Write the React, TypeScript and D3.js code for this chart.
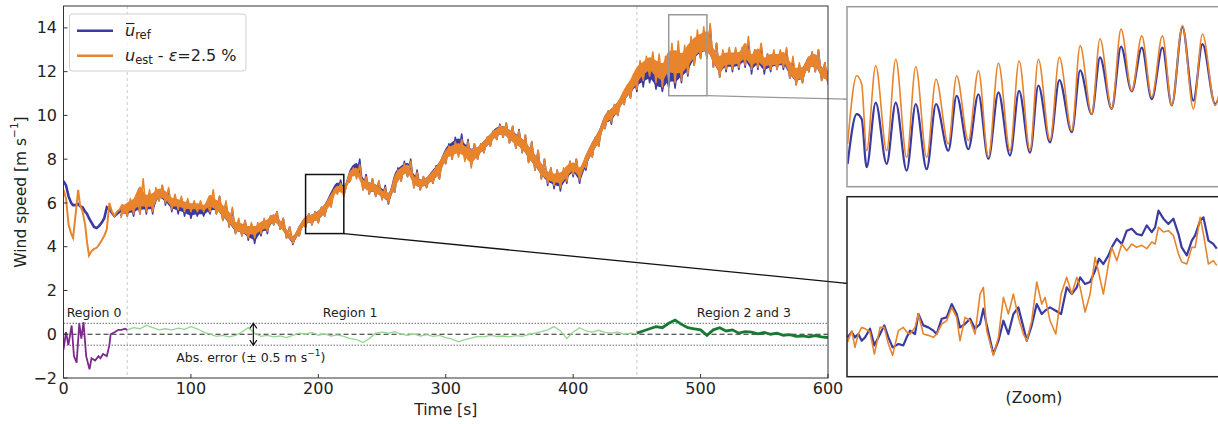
import React from 'react';
import * as d3 from 'd3';

const W = 1218;
const H = 424;
const FONT = '"DejaVu Sans", sans-serif';

const C_REF = '#3a3aa2';
const C_EST = '#e8842c';
const C_R0 = '#7b2a8c';
const C_R1 = '#97d592';
const C_R23 = '#177a32';

// ---- region 0 (start-up), wind speed lines [m/s]
const r0Time = [0, 2, 4, 6, 7.5, 9, 11.5, 13, 15, 17, 18.5, 20, 22, 24, 26, 28, 30, 32, 34, 36, 38, 40, 42, 44, 46, 48];
const r0Ref = [7.0, 6.8, 6.3, 6.0, 5.9, 5.9, 5.95, 5.85, 5.8, 5.6, 5.5, 5.3, 5.1, 4.9, 4.85, 4.95, 5.1, 5.3, 5.8, 5.7, 5.55, 5.4, 5.5, 5.6, 5.7, 5.8];
const r0Est = [6.6, 6.2, 5.0, 4.6, 4.4, 5.2, 6.6, 5.9, 5.6, 5.0, 4.2, 3.6, 3.8, 3.9, 3.95, 4.1, 4.3, 4.5, 4.8, 6.0, 5.6, 5.4, 5.6, 5.7, 5.9, 5.8];

// ---- t >= 45 s : envelope of the fast fluctuations, sampled every 5 s
const bandTime = d3.range(45, 601, 5);
const estLo = [5.3, 5.4, 5.5, 5.5, 5.6, 5.6, 6.1, 6.0, 5.7, 5.7, 5.6, 5.6, 5.6, 5.6, 5.6, 5.5, 5.2, 4.9, 4.6, 4.5,
  4.4, 4.4, 4.6, 4.7, 5.0, 4.8, 4.4, 4.15, 4.5, 4.9, 5.0, 5.1, 5.4, 5.8, 6.4, 6.3, 7.0, 7.1, 6.6, 6.4,
  6.3, 6.15, 6.0, 6.5, 7.0, 7.2, 6.7, 6.6, 6.7, 6.9, 7.1, 7.8, 8.0, 8.1, 7.9, 7.6, 8.0, 8.3, 8.6, 8.9,
  9.0, 8.75, 8.5, 8.3, 7.85, 7.5, 7.1, 6.9, 6.8, 6.7, 7.0, 7.3, 7.05, 7.6, 8.1, 8.6, 9.4, 9.7, 10.0, 10.5,
  10.8, 11.2, 11.6, 11.8, 11.5, 11.3, 11.6, 11.5, 11.6, 11.9, 12.3, 12.6, 12.6, 12.2, 11.75, 12.1, 12.1, 12.2, 12.3, 12.1,
  12.2, 12.1, 12.1, 12.1, 12.2, 11.7, 11.4, 11.5, 12.0, 12.0, 11.6, 11.45];
const estHi = [5.9, 6.2, 6.4, 7.1, 6.6, 6.7, 6.8, 6.7, 6.4, 6.3, 6.2, 6.1, 6.1, 6.0, 6.6, 6.3, 6.1, 5.8, 5.3, 5.2,
  5.1, 5.1, 5.3, 5.4, 5.6, 5.3, 4.9, 4.6, 5.1, 5.5, 5.6, 5.8, 6.1, 6.6, 6.9, 6.9, 7.6, 7.75, 7.2, 7.1,
  7.0, 6.7, 6.6, 7.5, 7.8, 7.9, 7.4, 7.2, 7.3, 7.65, 8.1, 8.6, 8.8, 8.9, 8.8, 8.7, 8.7, 9.0, 9.3, 9.55,
  9.65, 9.5, 9.3, 9.1, 8.8, 8.4, 8.0, 7.6, 7.5, 7.6, 7.9, 8.0, 7.8, 8.4, 9.0, 9.5, 10.2, 10.5, 10.8, 11.4,
  11.9, 12.5, 12.7, 12.9, 12.8, 12.7, 13.3, 13.4, 13.2, 13.6, 13.9, 14.05, 14.2, 13.3, 13.0, 13.1, 13.1, 13.1, 13.6, 13.0,
  13.3, 12.8, 13.0, 13.0, 13.1, 12.7, 12.4, 12.4, 12.9, 13.0, 12.4, 12.2];
const refLo = [5.4, 5.4, 5.4, 5.5, 5.5, 5.5, 6.1, 5.9, 5.6, 5.5, 5.4, 5.3, 5.4, 5.4, 5.5, 5.5, 5.2, 4.9, 4.6, 4.5,
  4.3, 4.15, 4.5, 4.6, 5.0, 4.8, 4.4, 4.1, 4.5, 4.9, 5.0, 5.1, 5.4, 5.9, 6.5, 6.4, 7.0, 7.2, 6.6, 6.4,
  6.3, 6.15, 5.95, 6.5, 7.0, 7.2, 6.7, 6.6, 6.7, 6.9, 7.1, 7.8, 8.0, 8.2, 8.0, 7.7, 8.0, 8.3, 8.6, 8.9,
  9.0, 8.75, 8.5, 8.3, 7.85, 7.5, 7.1, 6.8, 6.65, 6.55, 6.9, 7.2, 6.9, 7.5, 8.1, 8.6, 9.4, 9.6, 10.0, 10.5,
  10.8, 11.1, 11.3, 11.5, 11.2, 11.1, 11.3, 11.25, 11.5, 11.8, 12.3, 12.6, 12.6, 12.2, 11.75, 12.0, 12.0, 12.1, 12.2, 11.9,
  12.1, 11.9, 12.0, 12.1, 12.1, 11.7, 11.4, 11.5, 12.0, 12.0, 11.6, 11.45];
const refHi = [5.8, 6.0, 6.2, 6.4, 6.4, 6.5, 6.8, 6.6, 6.3, 6.2, 6.1, 5.9, 5.8, 5.8, 6.2, 6.3, 6.0, 5.7, 5.2, 5.2,
  5.0, 4.9, 5.2, 5.4, 5.6, 5.3, 4.9, 4.6, 5.1, 5.5, 5.6, 5.8, 6.1, 6.7, 7.05, 6.9, 7.7, 8.0, 7.3, 7.1,
  7.0, 6.8, 6.6, 7.6, 7.9, 8.0, 7.5, 7.2, 7.3, 7.7, 8.1, 8.7, 9.0, 9.15, 8.9, 8.7, 8.7, 9.0, 9.3, 9.6,
  9.65, 9.5, 9.35, 9.1, 8.8, 8.4, 8.0, 7.6, 7.5, 7.5, 7.9, 8.0, 7.7, 8.4, 9.0, 9.5, 10.2, 10.5, 10.8, 11.3,
  11.8, 12.3, 12.4, 12.3, 12.0, 11.9, 12.4, 12.6, 12.8, 13.0, 13.6, 13.8, 14.1, 13.3, 12.9, 13.0, 13.0, 13.0, 13.4, 13.0,
  13.2, 12.8, 12.9, 12.9, 13.0, 12.5, 12.3, 12.4, 12.9, 13.0, 12.4, 12.2];

// ---- estimation error [m/s]
const errR0Time = [0, 1, 2, 3.8, 6.4, 8.2, 10.3, 12.4, 14, 15.7, 17.8, 20.4, 22, 24.8, 27.5, 29, 31, 34, 36, 37, 40.4, 43, 45.6, 48.2, 50];
const errR0 = [-0.7, -0.3, 0.1, -0.5, 0.4, -1.0, -1.3, 0.5, -0.2, 0.55, -1.0, -1.6, -1.1, -1.2, -1.0, -1.1, -0.9, -1.0, -0.5, 0.0, 0.1, 0.2, 0.2, 0.25, 0.2];
const errR1Time = d3.range(50, 451, 5);
const errR1 = [0.2, 0.3, 0.25, 0.4, 0.3, 0.2, 0.25, 0.2, 0.28, 0.22, 0.35, 0.25, 0.1, 0.0, -0.1, -0.05, -0.12, -0.05, 0.1, 0.3,
  0.05, -0.1, -0.05, -0.12, -0.08, -0.15, -0.05, 0.05, 0.0, 0.08, -0.05, 0.02, -0.08, -0.03, -0.1, -0.2, -0.25, -0.38, -0.2, 0.05,
  0.1, 0.05, 0.12, 0.0, -0.05, 0.02, -0.08, -0.02, -0.1, -0.05, -0.15, -0.22, -0.35, -0.25, -0.18, -0.1, -0.12, -0.05, -0.1, -0.08,
  -0.12, -0.06, -0.1, -0.02, 0.05, 0.12, 0.2, 0.35, 0.15, -0.2, 0.1, 0.3, 0.15, 0.1, 0.18, 0.08, 0.05, 0.1, 0.0, 0.05, 0.02];
const errR23Time = d3.range(450, 601, 5);
const errR23 = [0.05, 0.15, 0.25, 0.35, 0.3, 0.5, 0.65, 0.45, 0.3, 0.25, 0.2, -0.05, 0.2, 0.3, 0.15, 0.2, 0.05, 0.12, 0.1, 0.02,
  0.08, 0.0, 0.05, -0.05, -0.02, -0.1, -0.08, -0.12, -0.06, -0.12, -0.15];

// ---- zoom windows
const zoomTopTime = [475.05, 475.78, 476.18, 476.58, 477.31, 478.19, 478.92, 479.80, 480.53, 481.41, 482.16, 483.15, 483.82, 484.76, 485.57, 486.37, 487.18, 488.11, 488.84, 489.72,
  490.39, 491.33, 492.08, 493.08, 493.75, 494.68, 495.35, 496.29, 497.04, 497.90, 498.71, 499.51, 500.37, 501.12, 501.98, 502.86, 503.59, 504.61, 505.0];
const zoomTopEst = [11.78, 13.18, 13.01, 11.64, 13.39, 11.64, 13.52, 11.50, 13.37, 11.50, 13.11, 11.78, 13.18, 11.85, 13.29, 11.50, 13.44, 11.64, 13.49, 11.64,
  13.52, 11.85, 13.56, 12.05, 13.80, 12.39, 13.94, 12.50, 14.14, 12.87, 14.00, 12.74, 14.00, 12.57, 14.21, 12.50, 14.04, 12.57, 12.9];
const zoomTopRef = [11.37, 12.39, 12.29, 11.30, 12.63, 11.37, 12.63, 11.23, 12.60, 11.26, 12.60, 11.64, 12.77, 11.67, 12.80, 11.47, 12.84, 11.54, 12.87, 11.60,
  12.98, 11.81, 13.09, 12.02, 13.29, 12.39, 13.56, 12.50, 13.78, 12.86, 13.76, 12.70, 13.76, 12.57, 14.18, 12.67, 13.83, 12.60, 12.8];

const zoomBotTime = [190.05, 190.38, 190.64, 190.91, 191.18, 191.45, 191.85, 192.20, 192.66, 193.00, 193.33, 193.67, 194.13, 194.53, 194.80, 195.07, 195.47, 195.74, 196.14, 196.54,
  196.95, 197.21, 197.62, 198.02, 198.42, 198.82, 199.09, 199.49, 199.90, 200.30, 200.70, 200.97, 201.24, 201.77, 202.18, 202.58, 202.98, 203.38, 203.78, 204.19,
  204.46, 204.86, 205.26, 205.66, 205.93, 206.33, 206.79, 207.22, 207.67, 208.08, 208.48, 208.75, 209.15, 209.55, 209.95, 210.27, 210.62, 211.03, 211.29, 211.70,
  212.10, 212.50, 212.90, 213.30, 213.71, 214.11, 214.51, 214.78, 215.05, 215.45, 215.85, 216.25, 216.66, 216.92, 217.33, 217.73, 218.00, 218.40, 218.67, 219.07,
  219.47, 219.74];
const zoomBotRef = [5.19, 5.27, 5.19, 5.24, 5.14, 5.19, 5.32, 5.07, 5.24, 5.37, 5.19, 5.04, 5.09, 5.07, 5.19, 5.29, 5.24, 5.54, 5.37, 5.34,
  5.29, 5.24, 5.47, 5.49, 5.69, 5.54, 5.34, 5.39, 5.47, 5.32, 5.39, 5.62, 5.37, 4.94, 5.14, 5.44, 5.24, 5.54, 5.64, 5.34,
  5.14, 5.37, 5.69, 5.54, 5.59, 5.64, 5.59, 5.54, 5.94, 5.84, 5.94, 6.09, 5.99, 6.02, 6.19, 6.37, 6.29, 6.42, 6.54, 6.67,
  6.59, 6.79, 6.82, 6.74, 6.72, 6.87, 6.77, 6.84, 7.09, 6.97, 6.89, 6.97, 6.74, 6.54, 6.42, 6.64, 6.72, 6.94, 6.99, 6.64,
  6.59, 6.52];
const zoomBotEst = [5.12, 5.29, 5.04, 5.24, 5.34, 5.32, 5.27, 4.94, 5.34, 5.34, 5.09, 4.92, 5.29, 5.34, 5.27, 5.24, 5.34, 5.54, 5.24, 5.22,
  5.19, 5.24, 5.39, 5.44, 5.64, 5.49, 5.14, 5.49, 5.44, 5.24, 5.84, 5.94, 5.29, 4.92, 5.19, 5.79, 5.54, 5.84, 5.49, 5.24,
  5.14, 5.44, 6.02, 5.69, 5.79, 5.44, 5.24, 5.84, 6.09, 5.84, 6.09, 5.94, 5.57, 5.84, 6.39, 6.14, 5.84, 6.29, 6.54, 6.34,
  6.59, 6.49, 6.59, 6.54, 6.57, 6.52, 6.62, 6.59, 6.84, 6.77, 6.79, 6.72, 6.44, 6.32, 6.29, 6.54, 6.54, 6.99, 6.74, 6.29,
  6.34, 6.27];

const xTicks = [0, 100, 200, 300, 400, 500, 600];
const yTicks = [-2, 0, 2, 4, 6, 8, 10, 12, 14];
const regionBounds = [50, 450];

// ---- scales
const x = d3.scaleLinear().domain([0, 600]).range([63.5, 828]);
const y = d3.scaleLinear().domain([-2, 15]).range([378, 6]);
const topX = d3.scaleLinear().domain([475, 505]).range([847, 1220]);
const topY = d3.scaleLinear().domain([10.9, 14.6]).range([186.7, 6.7]);
const botX = d3.scaleLinear().domain([190, 220]).range([847, 1220]);
const botY = d3.scaleLinear().domain([4.6, 7.3]).range([376.7, 196.7]);

const linePath = (xs: number[], ys: number[], sx: any, sy: any, curve: any = d3.curveLinear) =>
  d3.line<number>().x((_, i) => sx(xs[i])).y((d) => sy(d)).curve(curve)(ys) || '';

// inner part of the band as a filled area
const bandPath = (lo: number[], hi: number[]) =>
  d3.area<number>()
    .x((_, i) => x(bandTime[i]))
    .y0((_, i) => y(lo[i] + 0.22 * (hi[i] - lo[i])))
    .y1((d, i) => y(d - 0.22 * (hi[i] - lo[i])))
    .curve(d3.curveMonotoneX)(hi) || '';

// the fast fluctuation itself: swing between the envelope edges
const zigzagPath = (lo: number[], hi: number[]) => {
  const pts: [number, number][] = [];
  bandTime.forEach((t, i) => {
    pts.push([x(t), y(lo[i])]);
    pts.push([x(t + 2.5), y(hi[i])]);
  });
  return d3.line()(pts) || '';
};

export default function App() {
  const [x0, x1] = x.range();
  const yTop = y(15);
  const yBot = y(-2);
  const arrowX = x(149);
  const a1 = y(0.5);
  const a2 = y(-0.5);

  return (
    <svg width={W} height={H} style={{ position: 'absolute', left: 0, top: 0, background: '#fff' }} fontFamily={FONT}>
      <defs>
        <clipPath id="mainClip"><rect x={x0} y={yTop} width={x1 - x0} height={yBot - yTop} /></clipPath>
        <clipPath id="topClip"><rect x={847} y={6.7} width={380} height={180} /></clipPath>
        <clipPath id="botClip"><rect x={847} y={196.7} width={380} height={180} /></clipPath>
      </defs>

      {/* region boundaries */}
      {regionBounds.map((t) => (
        <line key={t} x1={x(t)} x2={x(t)} y1={yTop} y2={yBot} stroke="#c8c8c8" strokeWidth={1} strokeDasharray="3,3" />
      ))}

      <g clipPath="url(#mainClip)">
        {/* error bounds */}
        <line x1={x0} x2={x1} y1={y(0.5)} y2={y(0.5)} stroke="#444" strokeWidth={0.8} strokeDasharray="1.5,1.5" />
        <line x1={x0} x2={x1} y1={y(-0.5)} y2={y(-0.5)} stroke="#444" strokeWidth={0.8} strokeDasharray="1.5,1.5" />
        <line x1={x0} x2={x1} y1={y(0)} y2={y(0)} stroke="#222" strokeWidth={1} strokeDasharray="5,3" />

        <path d={linePath(errR1Time, errR1, x, y)} fill="none" stroke={C_R1} strokeWidth={1.3} />
        <path d={linePath(errR23Time, errR23, x, y)} fill="none" stroke={C_R23} strokeWidth={2.8} />
        <path d={linePath(errR0Time, errR0, x, y)} fill="none" stroke={C_R0} strokeWidth={1.8} />

        {/* wind speed */}
        <path d={bandPath(refLo, refHi)} fill={C_REF} />
        <path d={zigzagPath(refLo, refHi)} fill="none" stroke={C_REF} strokeWidth={1.6} strokeLinejoin="round" />
        <path d={linePath(r0Time, r0Ref, x, y)} fill="none" stroke={C_REF} strokeWidth={2.6} />
        <path d={bandPath(estLo, estHi)} fill={C_EST} />
        <path d={zigzagPath(estLo, estHi)} fill="none" stroke={C_EST} strokeWidth={1.6} strokeLinejoin="round" />
        <path d={linePath(r0Time, r0Est, x, y)} fill="none" stroke={C_EST} strokeWidth={2} />
      </g>

      {/* arrow for abs. error */}
      <g stroke="#111" strokeWidth={1.2} fill="none">
        <line x1={arrowX} x2={arrowX} y1={a1} y2={a2} />
        <path d={`M${arrowX - 3.5},${a1 + 5} L${arrowX},${a1} L${arrowX + 3.5},${a1 + 5}`} />
        <path d={`M${arrowX - 3.5},${a2 - 5} L${arrowX},${a2} L${arrowX + 3.5},${a2 - 5}`} />
      </g>

      <g fontSize={12.5} fill="#222" dominantBaseline="middle">
        <text x={x(2.5)} y={y(0.93)}>Region 0</text>
        <text x={x(225)} y={y(0.93)} textAnchor="middle">Region 1</text>
        <text x={x(534)} y={y(0.93)} textAnchor="middle">Region 2 and 3</text>
        <text x={x(147)} y={y(-1.1)} textAnchor="middle">
          Abs. error (± 0.5 m s<tspan dy={-5} fontSize={9}>−1</tspan><tspan dy={5}>)</tspan>
        </text>
      </g>

      {/* zoom markers */}
      <rect x={x(475)} y={y(14.6)} width={x(505) - x(475)} height={y(10.9) - y(14.6)} fill="none" stroke="#999" strokeWidth={1.5} />
      <rect x={x(190)} y={y(7.3)} width={x(220) - x(190)} height={y(4.6) - y(7.3)} fill="none" stroke="#111" strokeWidth={1.5} />
      <line x1={x(505)} y1={y(10.9)} x2={847} y2={topY(12.7)} stroke="#999" strokeWidth={1.3} />
      <line x1={x(220)} y1={y(4.6)} x2={847} y2={botY(6)} stroke="#111" strokeWidth={1.3} />

      {/* main frame and ticks */}
      <rect x={x0} y={yTop} width={x1 - x0} height={yBot - yTop} fill="none" stroke="#333" strokeWidth={1} />
      {xTicks.map((t) => (
        <g key={t}>
          <line x1={x(t)} x2={x(t)} y1={yBot} y2={yBot - 4} stroke="#333" />
          <text x={x(t)} y={394} fontSize={16} textAnchor="middle" fill="#222">{t}</text>
        </g>
      ))}
      {yTicks.map((v) => (
        <g key={v}>
          <line x1={x0} x2={x0 + 4} y1={y(v)} y2={y(v)} stroke="#333" />
          <text x={57} y={y(v)} dy="0.35em" fontSize={16} textAnchor="end" fill="#222">{d3.format('d')(v)}</text>
        </g>
      ))}
      <text x={(x0 + x1) / 2} y={415} fontSize={15.5} textAnchor="middle" fill="#222">Time [s]</text>
      <text transform={`translate(21,${(yTop + yBot) / 2}) rotate(-90)`} fontSize={15.5} textAnchor="middle" dominantBaseline="middle" fill="#222">
        Wind speed [m s<tspan dy={-6} fontSize={10.5}>−1</tspan><tspan dy={6}>]</tspan>
      </text>

      {/* legend */}
      <rect x={69.5} y={14} width={176.5} height={57} rx={3} fill="#fff" fillOpacity={0.8} stroke="#d0d0d0" />
      <line x1={77} x2={113} y1={30.7} y2={30.7} stroke={C_REF} strokeWidth={2.5} />
      <line x1={77} x2={113} y1={55.7} y2={55.7} stroke={C_EST} strokeWidth={2.5} />
      <line x1={126} x2={134.5} y1={23.5} y2={23.5} stroke="#222" strokeWidth={1.1} />
      <text x={125} y={36} fontSize={16} fill="#222">
        <tspan fontStyle="italic">u</tspan><tspan dy={3} fontSize={11.5}>ref</tspan>
      </text>
      <text x={125} y={61} fontSize={16} fill="#222">
        <tspan fontStyle="italic">u</tspan><tspan dy={3} fontSize={11.5}>est</tspan><tspan dy={-3}> - </tspan><tspan fontStyle="italic">ε</tspan>=2.5 %
      </text>

      {/* top zoom panel */}
      <g clipPath="url(#topClip)">
        <path d={linePath(zoomTopTime, zoomTopRef, topX, topY, d3.curveMonotoneX)} fill="none" stroke={C_REF} strokeWidth={2.2} />
        <path d={linePath(zoomTopTime, zoomTopEst, topX, topY, d3.curveMonotoneX)} fill="none" stroke={C_EST} strokeWidth={1.6} />
      </g>
      <rect x={847} y={6.7} width={400} height={180} fill="none" stroke="#999" strokeWidth={1.5} />
      <line x1={843.5} x2={847} y1={topY(12.7)} y2={topY(12.7)} stroke="#999" strokeWidth={1} />

      {/* bottom zoom panel */}
      <g clipPath="url(#botClip)">
        <path d={linePath(zoomBotTime, zoomBotRef, botX, botY)} fill="none" stroke={C_REF} strokeWidth={2.2} strokeLinejoin="round" />
        <path d={linePath(zoomBotTime, zoomBotEst, botX, botY)} fill="none" stroke={C_EST} strokeWidth={1.6} strokeLinejoin="round" />
      </g>
      <rect x={847} y={196.7} width={400} height={180} fill="none" stroke="#222" strokeWidth={1.5} />
      <line x1={843.5} x2={847} y1={botY(6)} y2={botY(6)} stroke="#222" strokeWidth={1} />

      <text x={1034} y={403} fontSize={15.5} textAnchor="middle" fill="#222">(Zoom)</text>
    </svg>
  );
}
